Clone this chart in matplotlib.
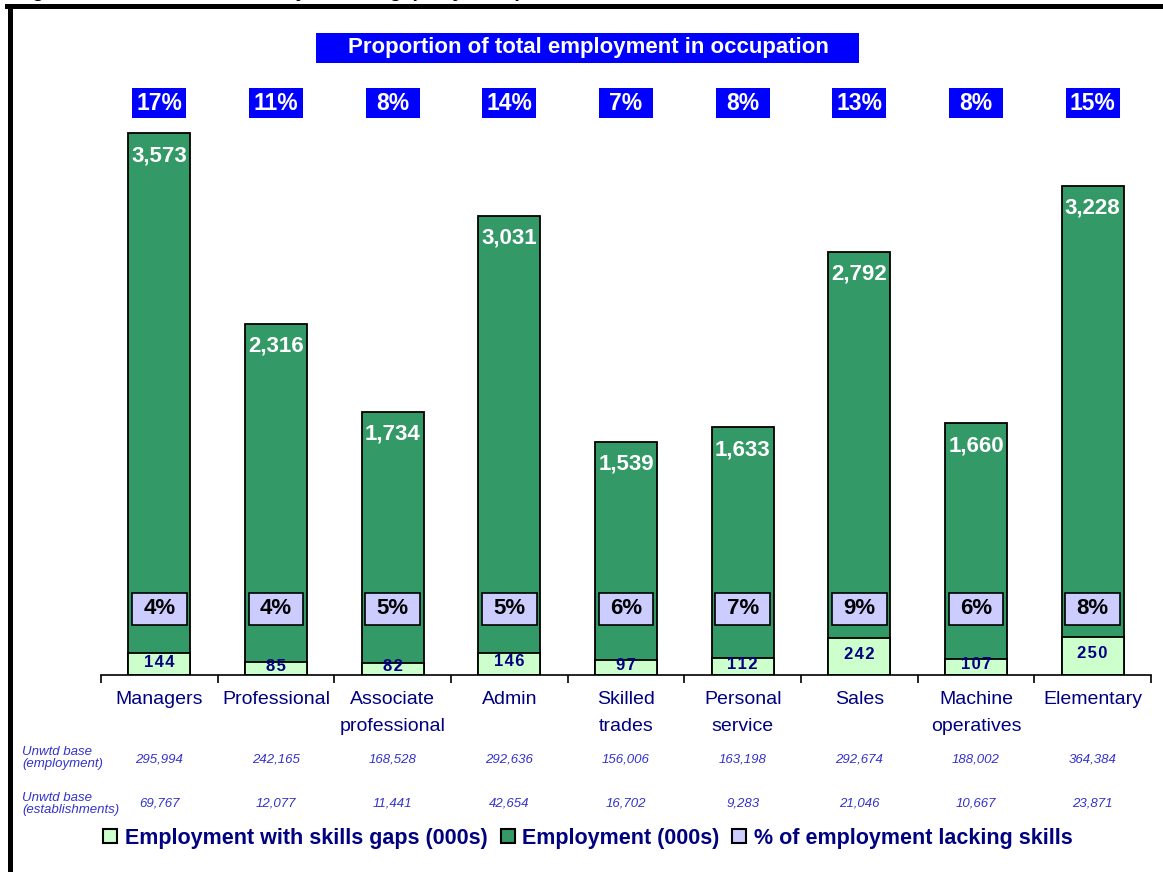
import matplotlib
matplotlib.use("Agg")
import matplotlib.pyplot as plt
import matplotlib.transforms as mtransforms
from matplotlib.patches import Rectangle, Patch
from matplotlib.lines import Line2D

plt.rcParams["font.family"] = ["Liberation Sans", "DejaVu Sans"]

# data by occupation
occupations = ["Managers", "Professional", "Associate\nprofessional", "Admin",
               "Skilled\ntrades", "Personal\nservice", "Sales",
               "Machine\noperatives", "Elementary"]
employment = [3573, 2316, 1734, 3031, 1539, 1633, 2792, 1660, 3228]
skills_gaps = [144, 85, 82, 146, 97, 112, 242, 107, 250]
pct_lacking = [4, 4, 5, 5, 6, 7, 9, 6, 8]
pct_of_total = [17, 11, 8, 14, 7, 8, 13, 8, 15]
base_employment = ["295,994", "242,165", "168,528", "292,636", "156,006",
                   "163,198", "292,674", "188,002", "364,384"]
base_establishments = ["69,767", "12,077", "11,441", "42,654", "16,702",
                       "9,283", "21,046", "10,667", "23,871"]

DARK_GREEN = "#339966"
LIGHT_GREEN = "#CCFFCC"
LAVENDER = "#CCCCFF"
BLUE = "#0000FF"
NAVY = "#000080"
BASE_BLUE = "#3333CC"

W, H = 1163, 872


def fx(px):
    return px / W


def fy(py):
    return 1 - py / H


fig = plt.figure(figsize=(W / 100, H / 100), dpi=100)
ax = fig.add_axes([fx(101), fy(675), fx(1151) - fx(101), fy(99) - fy(675)])

x = list(range(len(occupations)))
bar_w = 0.53
ax.bar(x, employment, width=bar_w, color=DARK_GREEN, edgecolor="black",
       linewidth=1.3, zorder=2)
ax.bar(x, skills_gaps, width=bar_w, color=LIGHT_GREEN, edgecolor="black",
       linewidth=1.3, zorder=2)

ax.set_xlim(-0.5, len(occupations) - 0.5)
ax.set_ylim(0, 3800)
for side in ["top", "left", "right"]:
    ax.spines[side].set_visible(False)
ax.spines["bottom"].set_color("black")
ax.spines["bottom"].set_linewidth(1.2)
ax.set_yticks([])
ax.set_xticks([i - 0.5 for i in range(len(occupations) + 1)])
ax.set_xticklabels([])
ax.tick_params(axis="x", length=6, width=1.2, color="black", direction="out")

# value labels on the bars
for i, v in enumerate(employment):
    ax.annotate(f"{v:,}", (i, v), xytext=(0, -16), textcoords="offset points",
                ha="center", va="center", color="white", fontsize=16,
                fontweight="bold", zorder=4)
for i, g in enumerate(skills_gaps):
    # hair spaces give the slightly spread digits
    ax.annotate("\u200a".join(str(g)), (i, g / 2),
                xytext=(0, 1.5), textcoords="offset points",
                ha="center", va="center", color=NAVY, fontsize=12,
                fontweight="bold", zorder=4,
                family=["Liberation Sans", "DejaVu Sans"])

trans = mtransforms.blended_transform_factory(ax.transData, fig.transFigure)

# % of employment lacking skills boxes
box_w = 55 / 116.67
for i, p in enumerate(pct_lacking):
    ax.add_patch(Rectangle((i - box_w / 2, fy(625)), box_w, 32 / H,
                           transform=trans, facecolor=LAVENDER,
                           edgecolor="black", linewidth=1.2, zorder=3))
    ax.text(i, fy(609), f"{p}%", transform=trans, ha="center", va="center",
            fontsize=16, fontweight="bold", color="black", zorder=4)

# share of total employment boxes
top_w = 54 / 116.67
for i, p in enumerate(pct_of_total):
    ax.add_patch(Rectangle((i - top_w / 2, fy(118)), top_w, 30 / H,
                           transform=trans, facecolor=BLUE, edgecolor="none",
                           zorder=3, clip_on=False))
    ax.text(i, fy(103), f"{p}%", transform=trans, ha="center", va="center",
            fontsize=16.5, fontweight="bold", color="white", zorder=4,
            clip_on=False)

fig.add_artist(Rectangle((fx(316), fy(63)), fx(859) - fx(316), 30 / H,
                         transform=fig.transFigure, facecolor=BLUE,
                         edgecolor="none"))
fig.text(fx(588), fy(48), "Proportion of total employment in occupation",
         ha="center", va="center", color="white", fontsize=16,
         fontweight="bold")

# category names and unweighted bases
for i, name in enumerate(occupations):
    ax.text(i, fy(691), name, transform=trans, ha="center", va="top",
            fontsize=14, color=NAVY, linespacing=1.75, clip_on=False)
    ax.text(i, fy(759), base_employment[i], transform=trans, ha="center",
            va="center", fontsize=9.5, style="italic", color=BASE_BLUE,
            clip_on=False)
    ax.text(i, fy(803), base_establishments[i], transform=trans, ha="center",
            va="center", fontsize=9.5, style="italic", color=BASE_BLUE,
            clip_on=False)

fig.text(fx(22), fy(758), "Unwtd base\n(employment)", ha="left", va="center",
         fontsize=9.5, style="italic", color=BASE_BLUE, linespacing=1.0)
fig.text(fx(22), fy(804), "Unwtd base\n(establishments)", ha="left",
         va="center", fontsize=9.5, style="italic", color=BASE_BLUE,
         linespacing=1.0)

handles = [
    Patch(facecolor=LIGHT_GREEN, edgecolor="black", linewidth=1.5,
          label="Employment with skills gaps (000s)"),
    Patch(facecolor=DARK_GREEN, edgecolor="black", linewidth=1.5,
          label="Employment (000s)"),
    Patch(facecolor=LAVENDER, edgecolor="black", linewidth=1.5,
          label="% of employment lacking skills"),
]
fig.legend(handles=handles, loc="center", bbox_to_anchor=(fx(588), fy(838)),
           ncol=3, frameon=False, prop={"weight": "bold", "size": 15.5},
           labelcolor=NAVY, handlelength=0.65, handleheight=0.65,
           handletextpad=0.35, columnspacing=0.6)

# frame round the chart, title sits above the page edge
fig.text(fx(15), fy(-3), "Figure 4.4: Number and density of skills gaps by occupation",
         ha="left", va="baseline", fontsize=14, fontweight="bold")
fig.add_artist(Line2D([fx(7), 1.01], [fy(6.5), fy(6.5)], color="black",
                      linewidth=3.6, transform=fig.transFigure))
fig.add_artist(Line2D([fx(9.5), fx(9.5)], [-0.01, fy(6.5)], color="black",
                      linewidth=3.6, transform=fig.transFigure))

fig.savefig("out.png", dpi=100)
